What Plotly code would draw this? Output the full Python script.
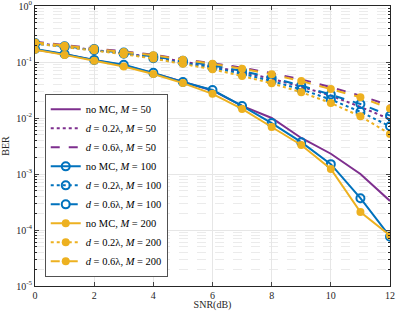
import plotly.graph_objects as go

snr = list(range(0, 13))

# no mutual coupling
ber_nomc_50 = [0.168, 0.137, 0.108, 0.088, 0.063, 0.044, 0.031, 0.0165, 0.0100, 0.0044, 0.0023, 0.0010, 0.00033]
ber_nomc_100 = [0.171, 0.139, 0.109, 0.089, 0.064, 0.044, 0.0316, 0.0164, 0.0081, 0.0037, 0.0015, 0.00037, 0.000076]
ber_nomc_200 = [0.165, 0.134, 0.105, 0.083, 0.061, 0.042, 0.027, 0.0145, 0.0069, 0.0033, 0.00123, 0.00021, 0.00008]
# d = 0.2 lambda
ber_d02_50 = [0.219, 0.191, 0.166, 0.145, 0.123, 0.102, 0.0832, 0.0661, 0.0501, 0.0363, 0.0251, 0.0158, 0.0095]
ber_d02_100 = [0.214, 0.186, 0.162, 0.141, 0.117, 0.0977, 0.0794, 0.0617, 0.0457, 0.0324, 0.0214, 0.0129, 0.0071]
ber_d02_200 = [0.214, 0.186, 0.162, 0.138, 0.115, 0.0933, 0.0741, 0.0562, 0.0417, 0.0288, 0.0186, 0.0107, 0.0052]
# d = 0.6 lambda
ber_d06_50 = [0.229, 0.200, 0.178, 0.155, 0.135, 0.112, 0.0955, 0.0794, 0.0631, 0.049, 0.0355, 0.0251, 0.0166]
ber_d06_100 = [0.219, 0.191, 0.170, 0.148, 0.126, 0.105, 0.0871, 0.0692, 0.0525, 0.038, 0.0263, 0.0178, 0.011]
ber_d06_200 = [0.224, 0.195, 0.174, 0.151, 0.132, 0.110, 0.0933, 0.0759, 0.0603, 0.0457, 0.0331, 0.0234, 0.0148]

x_ticks = [0, 2, 4, 6, 8, 10, 12]
y_ticks = [1, 0.1, 0.01, 0.001, 0.0001, 0.00001]
y_ticktext = ["10<sup>0</sup>", "10<sup>-1</sup>", "10<sup>-2</sup>", "10<sup>-3</sup>", "10<sup>-4</sup>", "10<sup>-5</sup>"]

PURPLE = "#7E2F8E"
BLUE = "#0072BD"
ORANGE = "#EDB120"

series = [
    ("no MC, <i>M</i> = 50", ber_nomc_50, PURPLE, "solid", None),
    ("<i>d</i> = 0.2λ, <i>M</i> = 50", ber_d02_50, PURPLE, "dot", None),
    ("<i>d</i> = 0.6λ, <i>M</i> = 50", ber_d06_50, PURPLE, "dash", None),
    ("no MC, <i>M</i> = 100", ber_nomc_100, BLUE, "solid", "open"),
    ("<i>d</i> = 0.2λ, <i>M</i> = 100", ber_d02_100, BLUE, "dot", "open"),
    ("<i>d</i> = 0.6λ, <i>M</i> = 100", ber_d06_100, BLUE, "dash", "open"),
    ("no MC, <i>M</i> = 200", ber_nomc_200, ORANGE, "solid", "filled"),
    ("<i>d</i> = 0.2λ, <i>M</i> = 200", ber_d02_200, ORANGE, "dot", "filled"),
    ("<i>d</i> = 0.6λ, <i>M</i> = 200", ber_d06_200, ORANGE, "dash", "filled"),
]

fig = go.Figure()
for name, vals, color, dash, mk in series:
    if mk is None:
        mode = "lines"
        marker = None
    elif mk == "open":
        mode = "lines+markers"
        marker = dict(symbol="circle-open", size=8, color=color, line=dict(width=2, color=color))
    else:
        mode = "lines+markers"
        marker = dict(symbol="circle", size=8, color=color, line=dict(width=0))
    fig.add_trace(go.Scatter(x=snr, y=vals, name=name, mode=mode,
                             line=dict(color=color, width=2, dash=dash),
                             marker=marker))

minor_vals = []
for e in [-5, -4, -3, -2, -1]:
    for m in range(2, 10):
        minor_vals.append(m * 10 ** e)

serif = "Liberation Serif, Times New Roman, serif"
axis_font = dict(family=serif, size=10, color="#262626")

fig.update_layout(
    width=397, height=311,
    margin=dict(l=35, r=7, t=6, b=25),
    paper_bgcolor="white", plot_bgcolor="white",
    font=axis_font,
    showlegend=True,
    legend=dict(x=0.028, y=0.032, xanchor="left", yanchor="bottom",
                bgcolor="white", bordercolor="#262626", borderwidth=0.8,
                font=dict(family=serif, size=10.5, color="black"),
                tracegroupgap=0),
    xaxis=dict(range=[0, 12], tickvals=x_ticks, ticks="inside", ticklen=4,
               showline=True, linecolor="#262626", linewidth=1, mirror="ticks",
               showgrid=True, gridcolor="#E6E6E6", gridwidth=1, zeroline=False,
               title=dict(text="SNR(dB)", standoff=3, font=dict(size=10)),
               tickfont=dict(size=10), automargin=False, ticklabeloverflow="allow"),
    yaxis=dict(type="log", range=[-5, 0], tickvals=y_ticks, ticktext=y_ticktext,
               ticks="inside", ticklen=4,
               showline=True, linecolor="#262626", linewidth=1, mirror="ticks",
               showgrid=True, gridcolor="#E6E6E6", gridwidth=1, zeroline=False,
               minor=dict(tickvals=minor_vals, ticks="inside", ticklen=2, tickcolor="#262626",
                          showgrid=True, gridcolor="#EBEBEB", griddash="dash", gridwidth=1),
               title=dict(text="BER", standoff=4, font=dict(size=10)),
               tickfont=dict(size=10), automargin=False, ticklabeloverflow="allow"),
)

fig.write_html("out.html",
               config={"displayModeBar": False},
               post_script="document.body.style.margin='0';document.body.style.padding='0';")
